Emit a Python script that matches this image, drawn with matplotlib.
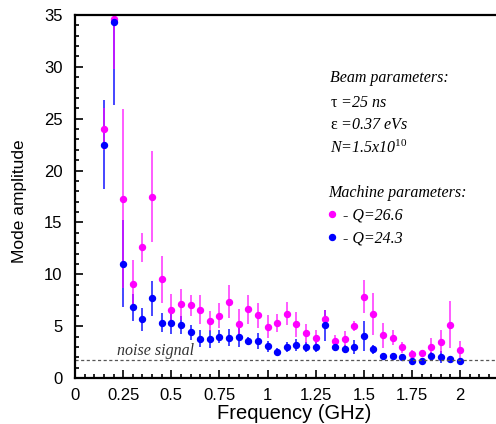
import matplotlib
matplotlib.use("Agg")
from matplotlib import pyplot as plt
from matplotlib.lines import Line2D

plt.rcParams['font.family'] = ['Liberation Sans', 'DejaVu Sans']
plt.rcParams['mathtext.fontset'] = 'custom'
plt.rcParams['mathtext.rm'] = 'Liberation Serif'
plt.rcParams['mathtext.it'] = 'Liberation Serif:italic'

# frequencies (GHz)
freq = [0.15, 0.2, 0.25, 0.3, 0.35, 0.4, 0.45, 0.5, 0.55, 0.6,
        0.65, 0.7, 0.75, 0.8, 0.85, 0.9, 0.95, 1.0, 1.05, 1.1,
        1.15, 1.2, 1.25, 1.3, 1.35, 1.4, 1.45, 1.5, 1.55, 1.6,
        1.65, 1.7, 1.75, 1.8, 1.85, 1.9, 1.95, 2.0]

# Q = 26.6 (magenta)
amp_266 = [24.0, 34.6, 17.3, 9.1, 12.6, 17.5, 9.5, 6.6, 7.1, 7.0,
           6.6, 5.5, 6.0, 7.35, 5.2, 6.65, 6.05, 4.95, 5.3, 6.2,
           5.2, 4.3, 3.9, 5.65, 3.6, 3.8, 5.0, 7.85, 6.15, 4.1,
           3.9, 2.95, 2.3, 2.4, 3.0, 3.5, 5.15, 2.7]
err_266 = [2.0, 4.8, 8.6, 2.3, 1.4, 4.4, 2.3, 1.5, 1.5, 1.05,
           1.4, 1.0, 1.2, 1.6, 1.5, 1.4, 1.2, 1.1, 0.85, 1.1,
           1.2, 0.9, 0.7, 0.9, 0.5, 0.75, 0.5, 1.6, 2.0, 1.25,
           0.7, 0.55, 0.4, 0.1, 0.9, 1.1, 2.3, 0.85]

# Q = 24.3 (blue)
amp_243 = [22.5, 34.3, 11.0, 6.8, 5.65, 7.7, 5.35, 5.35, 5.1, 4.4,
           3.8, 3.75, 4.0, 3.9, 4.0, 3.6, 3.55, 3.05, 2.55, 3.0,
           3.2, 3.0, 3.0, 5.1, 3.0, 2.8, 3.0, 4.05, 2.75, 2.15,
           2.1, 2.0, 1.65, 1.65, 2.1, 2.0, 1.8, 1.65]
err_243 = [4.3, 8.0, 4.2, 1.3, 1.1, 1.7, 0.9, 1.1, 0.85, 0.7,
           0.8, 0.9, 0.6, 0.8, 1.0, 0.4, 0.8, 0.5, 0.3, 0.5,
           0.6, 0.5, 0.5, 1.5, 0.4, 0.4, 0.7, 1.45, 0.4, 0.2,
           0.3, 0.3, 0.15, 0.1, 0.4, 0.6, 0.2, 0.15]

noise_level = 1.7

fig = plt.figure(figsize=(4.96, 4.24), dpi=100)
ax = fig.add_axes([75 / 496, 46 / 424, 421 / 496, 363 / 424])

# error bars first, markers on top
ax.errorbar(freq, amp_243, yerr=err_243, fmt='none', ecolor='#0000ff',
            elinewidth=1.2, alpha=0.85)
ax.errorbar(freq, amp_266, yerr=err_266, fmt='none', ecolor='#ff00ff',
            elinewidth=1.2, alpha=0.75)
ax.plot(freq, amp_266, 'o', color='#ff00ff', markersize=4.3)
ax.plot(freq, amp_243, 'o', color='#0000ff', markersize=4.3)

ax.axhline(noise_level, color='#555555', linestyle=(0, (2.5, 2)), linewidth=0.9)
ax.text(0.22, noise_level + 0.1, 'noise signal', family='Liberation Serif',
        style='italic', fontsize=11.5, va='bottom', ha='left', color='#333333')

ax.set_xlim(0, 2.187)
ax.set_ylim(0, 35)

ax.set_xticks([0, 0.25, 0.5, 0.75, 1, 1.25, 1.5, 1.75, 2])
ax.set_xticklabels(['0', '0.25', '0.5', '0.75', '1', '1.25', '1.5', '1.75', '2'])
ax.set_xticks([i * 0.05 for i in range(44)], minor=True)
ax.set_yticks(range(0, 36, 5))
ax.set_yticks(range(0, 36), minor=True)

ax.tick_params(which='both', direction='in', top=False, right=False,
               labelsize=12, width=1.2)
ax.tick_params(which='major', length=6)
ax.tick_params(which='minor', length=3)
ax.tick_params(axis='x', pad=7)
ax.tick_params(axis='y', pad=9)

for s in ['left', 'bottom', 'top']:
    ax.spines[s].set_linewidth(1.6)
ax.spines['right'].set_visible(False)

ax.set_xlabel('Frequency (GHz)', fontsize=14.5)
ax.set_ylabel('Mode amplitude', fontsize=12.5)
ax.xaxis.set_label_coords(0.52, -0.072)
ax.yaxis.set_label_coords(-0.113, 0.486)

# parameter block
tx = 0.606
serif = dict(family='Liberation Serif', fontsize=11.5, style='italic',
             transform=ax.transAxes, va='center', ha='left')
ax.text(tx, 0.826, 'Beam parameters:', **serif)
ax.text(tx, 0.758, r'$\mathrm{\tau}$ =25 ns', **serif)
ax.text(tx, 0.697, r'$\mathrm{\varepsilon}$ =0.37 eVs', **serif)
ax.text(tx, 0.634, r'N=1.5x10$^{\mathit{10}}$', **serif)

handles = [Line2D([], [], marker='o', linestyle='none', color='#ff00ff', markersize=4.3),
           Line2D([], [], marker='o', linestyle='none', color='#0000ff', markersize=4.3)]
leg = ax.legend(handles, ['- Q=26.6', '- Q=24.3'], title='Machine parameters:',
                loc='upper left', bbox_to_anchor=(tx - 0.004, 0.533),
                frameon=False, handlelength=0.4, handletextpad=0.5,
                labelspacing=0.45, borderaxespad=0, borderpad=0,
                prop={'family': 'Liberation Serif', 'style': 'italic', 'size': 11.5},
                title_fontproperties={'family': 'Liberation Serif', 'style': 'italic', 'size': 11.5})
leg._legend_box.align = 'left'

fig.savefig('out.png', dpi=100)
